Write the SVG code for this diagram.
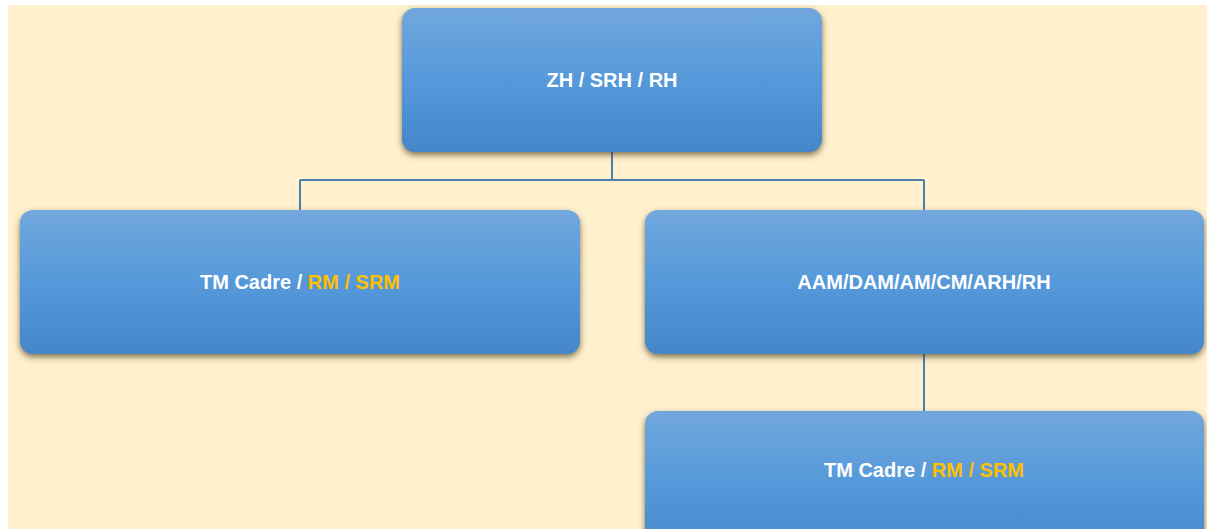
<svg xmlns="http://www.w3.org/2000/svg" width="1207" height="529" viewBox="0 0 1207 529">
<defs>
<linearGradient id="g" x1="0" y1="0" x2="0" y2="1">
<stop offset="0" stop-color="#71A7DD"/>
<stop offset="0.5" stop-color="#5699DA"/>
<stop offset="1" stop-color="#4487C8"/>
</linearGradient>
<filter id="sh" x="-5%" y="-10%" width="110%" height="130%">
<feGaussianBlur in="SourceAlpha" stdDeviation="3"/>
<feOffset dx="0" dy="3" result="b"/>
<feFlood flood-color="#4a3a1a" flood-opacity="0.7"/>
<feComposite in2="b" operator="in"/>
<feMerge><feMergeNode/><feMergeNode in="SourceGraphic"/></feMerge>
</filter>
<style>
.box{fill:url(#g);filter:url(#sh);}
.t{font-family:"Liberation Sans",Arial,sans-serif;font-weight:bold;font-size:20px;fill:#FFFFFF;text-anchor:middle;}
.y{fill:#FFC000;}
.c{fill:none;stroke:#4F7FAE;stroke-width:2;}
</style>
</defs>
<rect x="0" y="0" width="1207" height="529" fill="#FFFFFF"/>
<rect x="8" y="5" width="1199" height="524" fill="#FFF1CE"/>
<g id="connectors">
<path class="c" d="M612 152 V180 M300 180 H924 M300 180 V210 M924 180 V210 M924 354 V411"/>
</g>
<g id="n1">
<rect class="box" x="402" y="8" width="420" height="144" rx="13"/>
<text class="t" x="612" y="87">ZH / SRH / RH</text>
</g>
<g id="n2">
<rect class="box" x="20" y="210" width="560" height="144" rx="13"/>
<text class="t" x="300" y="289">TM Cadre / <tspan class="y">RM / SRM</tspan></text>
</g>
<g id="n3">
<rect class="box" x="645" y="210" width="559" height="144" rx="13"/>
<text class="t" x="924" y="289">AAM/DAM/AM/CM/ARH/RH</text>
</g>
<g id="n4">
<rect class="box" x="645" y="411" width="559" height="144" rx="13"/>
<text class="t" x="924" y="477">TM Cadre / <tspan class="y">RM / SRM</tspan></text>
</g>
</svg>
